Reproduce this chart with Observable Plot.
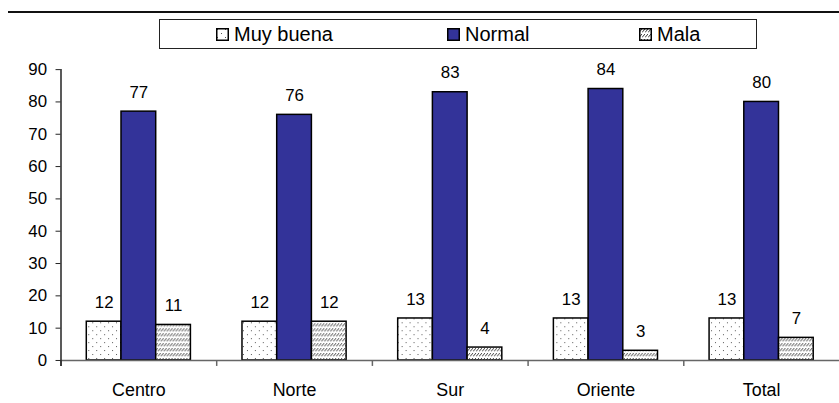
<!DOCTYPE html>
<html>
<head>
<meta charset="utf-8">
<script src="https://cdn.jsdelivr.net/npm/d3@7"></script>
<script src="https://cdn.jsdelivr.net/npm/@observablehq/plot@0.6"></script>
<style>
  html, body { margin: 0; padding: 0; background: #fff; overflow: hidden; }
  #wrap { position: relative; width: 839px; height: 403px; overflow: hidden; font-family: "Liberation Sans", Arial, sans-serif; }
  #rule { position: absolute; left: 8px; top: 11px; width: 831px; height: 2px; background: #111; }
  #legend { position: absolute; left: 159px; top: 19px; width: 596px; height: 28px; border: 1px solid #222; box-sizing: content-box; }
  .item { position: absolute; top: 0; height: 28px; display: flex; align-items: center; font-size: 20px; color: #000; }
  .item svg { margin-right: 5px; }
  #chart { position: absolute; left: 0; top: 0; }
</style>
</head>
<body>
<svg width="0" height="0" style="position:absolute">
  <defs>
    <pattern id="dots" width="8" height="8" patternUnits="userSpaceOnUse">
      <rect width="8" height="8" fill="#fff"/>
      <rect x="1" y="1" width="1" height="1" fill="#555"/>
      <rect x="5" y="5" width="1" height="1" fill="#555"/>
    </pattern>
    <pattern id="hatch" width="3" height="5" patternUnits="userSpaceOnUse">
      <rect width="3" height="5" fill="#fff"/>
      <path d="M0,4.5 L3,1" stroke="#222" stroke-width="0.9"/>
    </pattern>
  </defs>
</svg>
<div id="wrap">
  <div id="chart"></div>
  <div id="rule"></div>
  <div id="legend"></div>
</div>
<script>
// Valoración por zona (%)
const regions = ["Centro", "Norte", "Sur", "Oriente", "Total"];
const seriesNames = ["Muy buena", "Normal", "Mala"];
const muyBuena = [12, 12, 13, 13, 13];
const normal = [77, 76, 83, 84, 80];
const mala = [11, 12, 4, 3, 7];
const yTicks = [0, 10, 20, 30, 40, 50, 60, 70, 80, 90];

const seriesValues = [muyBuena, normal, mala];
const fills = ["url(#dots)", "#333399", "url(#hatch)"];

// Long-format rows: one per region × series
const rows = [];
seriesNames.forEach((s, si) => {
  regions.forEach((r, ri) => rows.push({region: r, series: s, value: seriesValues[si][ri]}));
});

const marginLeft = 61;
const plotWidth = 846;                     // last band runs past the page edge
const band = (plotWidth - marginLeft) / regions.length;
const barW = 35;
const groupOffset = (band - 3 * barW) / 2;

const barMarks = seriesNames.map((s, si) =>
  Plot.barY(rows.filter(d => d.series === s), {
    x: "region",
    y: "value",
    insetLeft: groupOffset + si * barW,
    insetRight: band - groupOffset - (si + 1) * barW,
    fill: fills[si],
    stroke: "#000",
    strokeWidth: 1.5
  })
);

const labelMarks = seriesNames.map((s, si) =>
  Plot.text(rows.filter(d => d.series === s), {
    x: "region",
    y: "value",
    text: d => String(d.value),
    dx: (si - 1) * barW,
    dy: -19.5,
    fontSize: 17,
    fill: "#000"
  })
);

const chart = Plot.plot({
  width: plotWidth,
  height: 403,
  marginLeft,
  marginRight: 0,
  marginTop: 69.7,
  marginBottom: 40,
  x: {domain: regions, padding: 0},
  y: {domain: [0, 90]},
  style: {fontFamily: "'Liberation Sans', Arial, sans-serif", background: "transparent", color: "#000"},
  marks: [
    ...barMarks,
    // x axis baseline
    Plot.ruleY([0], {stroke: "#666", strokeWidth: 1.5}),
    // category boundary ticks
    Plot.ruleX(regions, {x: d => d, dx: -band / 2, y1: 0, y2: 0, insetBottom: -6, stroke: "#666", strokeWidth: 1.5}),
    // y axis line
    Plot.ruleX([regions[0]], {x: d => d, dx: -band / 2, y1: 90, y2: 0, insetBottom: -6, stroke: "#222", strokeWidth: 1.5}),
    Plot.axisY({ticks: yTicks, tickSize: 5, tickPadding: 9, fontSize: 17, label: null, stroke: "#222"}),
    Plot.axisX({tickSize: 0, tickPadding: 23, fontSize: 18, label: null}),
    ...labelMarks
  ]
});
document.getElementById("chart").appendChild(chart);

// Legend
const legend = document.getElementById("legend");
const legendX = [56, 287, 479];
seriesNames.forEach((s, si) => {
  const item = document.createElement("div");
  item.className = "item";
  item.style.left = legendX[si] + "px";
  item.innerHTML = `<svg width="13" height="13"><rect x="0.75" y="0.75" width="11.5" height="11.5" fill="${fills[si]}" stroke="#000" stroke-width="1.5"/></svg><span>${s}</span>`;
  legend.appendChild(item);
});
</script>
</body>
</html>
